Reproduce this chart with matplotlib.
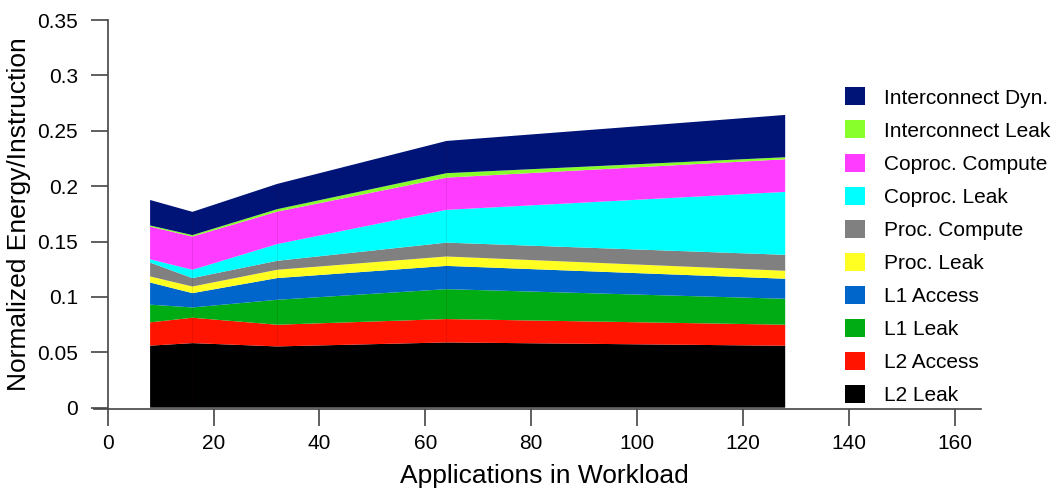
import numpy as np
import matplotlib
matplotlib.use('Agg')
import matplotlib.pyplot as plt
from matplotlib.patches import Patch

plt.rcParams['font.family'] = ['Liberation Sans', 'DejaVu Sans']

# workload sizes (number of applications)
apps = [8, 16, 32, 64, 128]

# energy per instruction by component, bottom of the stack first
l2_leak = [0.0560, 0.0583, 0.0553, 0.0589, 0.0559]
l2_access = [0.0210, 0.0229, 0.0196, 0.0211, 0.0190]
l1_leak = [0.0160, 0.0093, 0.0225, 0.0270, 0.0234]
l1_access = [0.0200, 0.0129, 0.0196, 0.0210, 0.0181]
proc_leak = [0.0055, 0.0060, 0.0075, 0.0085, 0.0072]
proc_compute = [0.0125, 0.0076, 0.0081, 0.0125, 0.0144]
coproc_leak = [0.0030, 0.0075, 0.0151, 0.0296, 0.0568]
coproc_compute = [0.0295, 0.0300, 0.0293, 0.0291, 0.0295]
ic_leak = [0.0010, 0.0013, 0.0022, 0.0040, 0.0018]
ic_dyn = [0.0230, 0.0210, 0.0228, 0.0291, 0.0382]

layers = [l2_leak, l2_access, l1_leak, l1_access, proc_leak,
          proc_compute, coproc_leak, coproc_compute, ic_leak, ic_dyn]
names = ['L2 Leak', 'L2 Access', 'L1 Leak', 'L1 Access', 'Proc. Leak',
         'Proc. Compute', 'Coproc. Leak', 'Coproc. Compute',
         'Interconnect Leak', 'Interconnect Dyn.']
colors = ['#000000', '#FF1400', '#00AC14', '#0066CC', '#FFFF22',
          '#808080', '#00FFFF', '#FF3CFF', '#88FF2A', '#001478']

fig = plt.figure(figsize=(10.56, 4.88), dpi=100)
ax = fig.add_axes([94 / 1056, 1 - 409 / 488, 887 / 1056, 389 / 488])

ax.stackplot(apps, *layers, colors=colors, linewidth=0)

# faint seams where the polygons meet
tops = np.sum(layers, axis=0)
for x, t in zip(apps[1:-1], tops[1:-1]):
    ax.vlines(x, 0, t, color='#3a0000', lw=0.5, alpha=0.15)

ax.set_xlim(-2.6, 165)
ax.set_ylim(-0.0012, 0.35)
ax.set_xticks(np.arange(0, 161, 20))
ax.set_yticks(np.arange(0, 0.351, 0.05))
ax.set_yticklabels(['0', '0.05', '0.1', '0.15', '0.2', '0.25', '0.3', '0.35'])
ax.tick_params(direction='out', length=12, width=1.2, color='#444444',
               labelsize=15)
ax.tick_params(axis='y', pad=9.5)
ax.tick_params(axis='x', pad=6)
for side in ['top', 'right']:
    ax.spines[side].set_visible(False)
for side in ['left', 'bottom']:
    ax.spines[side].set_color('#444444')
    ax.spines[side].set_linewidth(1.2)
ax.spines['left'].set_position(('data', 0))

ax.set_xlabel('Applications in Workload', fontsize=19)
ax.set_ylabel('Normalized Energy/Instruction', fontsize=19)
ax.xaxis.set_label_coords(450 / 887, -0.142)
ax.yaxis.set_label_coords(-63 / 887, 0.5)

handles = [Patch(facecolor=c, edgecolor='none') for c in colors]
fig.legend(handles[::-1], names[::-1], loc='upper left',
           bbox_to_anchor=(835 / 1056, 1 - 77 / 488), frameon=False,
           fontsize=15, handlelength=0.95, handleheight=0.95,
           handletextpad=0.9, labelspacing=0.62, borderpad=0)

fig.savefig('out.png', dpi=100)
